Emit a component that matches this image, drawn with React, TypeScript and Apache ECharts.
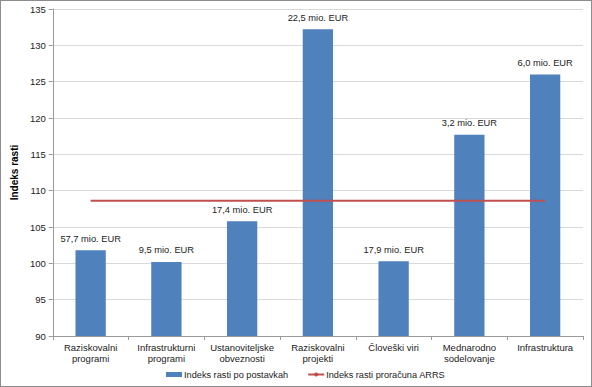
import React, { useEffect, useRef } from "react";
import * as echarts from "echarts";

const categories = [
  "Raziskovalni\nprogrami",
  "Infrastrukturni\nprogrami",
  "Ustanoviteljske\nobveznosti",
  "Raziskovalni\nprojekti",
  "Človeški viri",
  "Mednarodno\nsodelovanje",
  "Infrastruktura",
];
const growthIndex = [101.8, 100.2, 105.8, 132.2, 100.3, 117.7, 126.0];
const amountLabels = [
  "57,7 mio. EUR",
  "9,5 mio. EUR",
  "17,4 mio. EUR",
  "22,5 mio. EUR",
  "17,9 mio. EUR",
  "3,2 mio. EUR",
  "6,0 mio. EUR",
];
const budgetIndex = [108.6, 108.6, 108.6, 108.6, 108.6, 108.6, 108.6];

const FONT = "Liberation Sans, Arial, sans-serif";

export default function App() {
  const ref = useRef<HTMLDivElement>(null);
  useEffect(() => {
    document.body.style.margin = "0";
    const chart = echarts.init(ref.current!, null, { renderer: "svg" });
    chart.setOption({
      animation: false,
      backgroundColor: "#fff",
      textStyle: { fontFamily: FONT },
      grid: { left: 44, right: 8, top: 8, bottom: 50, containLabel: false },
      legend: {
        bottom: 2,
        left: 160,
        itemWidth: 16,
        itemHeight: 5,
        itemGap: 19,
        textStyle: { fontFamily: FONT, fontSize: 9.2, color: "#222", padding: [0, 0, 0, -3] },
        data: [
          { name: "Indeks rasti po postavkah", icon: "rect" },
          { name: "Indeks rasti proračuna ARRS" },
        ],
      },
      xAxis: {
        type: "category",
        data: categories,
        axisLine: { lineStyle: { color: "#999" } },
        axisTick: { show: true, lineStyle: { color: "#999" }, length: 4 },
        axisLabel: {
          color: "#222",
          fontSize: 9.5,
          fontFamily: FONT,
          margin: 6,
          lineHeight: 11,
          interval: 0,
        },
      },
      yAxis: {
        type: "value",
        min: 90,
        max: 135,
        interval: 5,
        name: "Indeks rasti",
        nameLocation: "middle",
        nameGap: 28,
        nameTextStyle: { fontWeight: "bold", fontSize: 10, color: "#000", fontFamily: FONT },
        axisLine: { show: true, lineStyle: { color: "#999" } },
        axisTick: { show: true, length: 4, lineStyle: { color: "#999" } },
        axisLabel: { color: "#222", fontSize: 9.5, fontFamily: FONT, margin: 7 },
        splitLine: { lineStyle: { color: "#d9d9d9", width: 1 } },
      },
      series: [
        {
          name: "Indeks rasti po postavkah",
          type: "bar",
          data: growthIndex,
          barWidth: "40%",
          itemStyle: { color: "#4F81BD" },
          label: {
            show: true,
            position: "top",
            distance: 7,
            color: "#222",
            fontSize: 9.3,
            fontFamily: FONT,
            formatter: (p: any) => amountLabels[p.dataIndex],
          },
        },
        {
          name: "Indeks rasti proračuna ARRS",
          type: "line",
          data: budgetIndex,
          symbol: "none",
          lineStyle: { color: "#C0504D", width: 2 },
          itemStyle: { color: "#C0504D" },
        },
      ],
    });
    return () => chart.dispose();
  }, []);
  return (
    <div
      style={{
        position: "absolute",
        left: 0,
        top: 0,
        width: 592,
        height: 387,
        boxSizing: "border-box",
        border: "1px solid #8c8c8c",
        background: "#fff",
      }}
    >
      <div ref={ref} style={{ width: 590, height: 385 }} />
    </div>
  );
}
